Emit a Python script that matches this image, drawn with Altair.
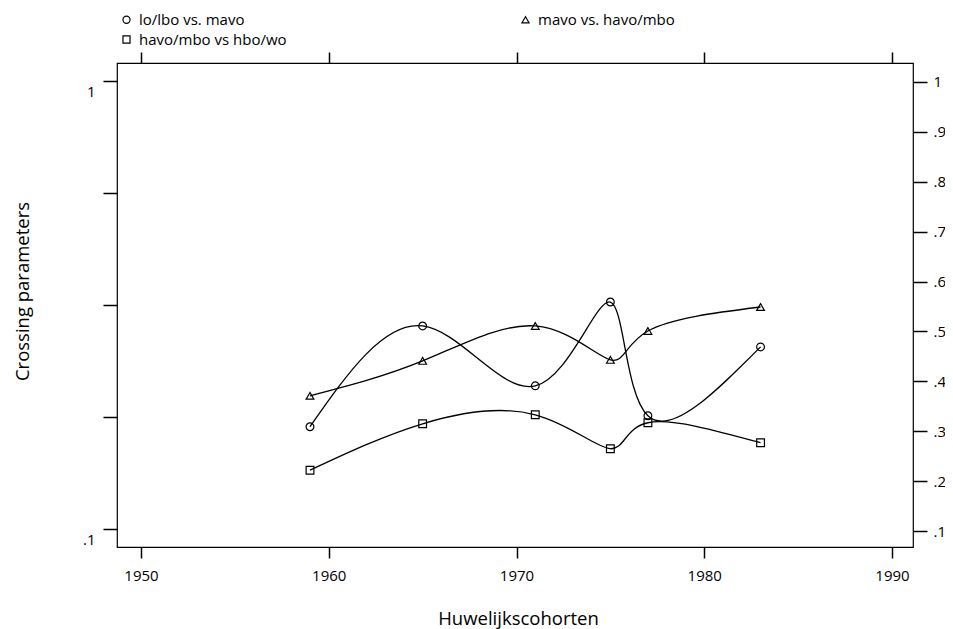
import altair as alt
import pandas as pd

years = [1959, 1965, 1971, 1975, 1977, 1983]
series_names = ["lo/lbo vs. mavo", "havo/mbo vs hbo/wo", "mavo vs. havo/mbo"]
lo_lbo_mavo = [0.309, 0.511, 0.391, 0.559, 0.331, 0.469]
havo_mbo_hbo = [0.222, 0.315, 0.333, 0.265, 0.317, 0.277]
mavo_havo_mbo = [0.371, 0.441, 0.511, 0.443, 0.501, 0.549]
shapes = ["circle", "square", "triangle-up"]
x_ticks = [1950, 1960, 1970, 1980, 1990]
right_ticks = [0.1, 0.2, 0.3, 0.4, 0.5, 0.6, 0.7, 0.8, 0.9, 1.0]
left_ticks = [1.0, 10 ** -0.25, 10 ** -0.5, 10 ** -0.75, 0.1]

rows = []
for name, vals in zip(series_names, [lo_lbo_mavo, havo_mbo_hbo, mavo_havo_mbo]):
    for yr, v in zip(years, vals):
        rows.append({"year": yr, "value": v, "series": name})
df = pd.DataFrame(rows)

FONT = "Open Sans"
xs = alt.Scale(domain=[1948.72, 1991.12], nice=False, zero=False)
ys = alt.Scale(domain=[0.068, 1.038], nice=False, zero=False)
ylog = alt.Scale(type="log", domain=[0.0912, 1.097], nice=False)

base = alt.Chart(df)

lines = base.mark_line(color="black", strokeWidth=1.3, interpolate="natural").encode(
    x=alt.X("year:Q", scale=xs, axis=alt.Axis(
        orient="bottom", values=x_ticks, format="d", tickSize=11, labelPadding=10,
        title="Huwelijkscohorten", titleFontSize=18.5, titleFontWeight=500,
        titleY=77, titleX=401, titleBaseline="alphabetic", titleFont=FONT)),
    y=alt.Y("value:Q", scale=ys, axis=alt.Axis(
        orient="right", values=right_ticks, tickSize=14, labelPadding=6,
        labelExpr="datum.value >= 0.999 ? '1' : replace(format(datum.value, '.1f'), '0.', '.')",
        title=None)),
    detail="series:N",
)

points = base.mark_point(filled=False, color="black", size=60, strokeWidth=1.2, opacity=1).encode(
    x=alt.X("year:Q", scale=xs, axis=None),
    y=alt.Y("value:Q", scale=ys, axis=None),
    shape=alt.Shape("series:N", scale=alt.Scale(domain=series_names, range=shapes),
                    legend=alt.Legend(
                        orient="none", legendX=2, legendY=-51, columns=2, columnPadding=231,
                        rowPadding=4, symbolSize=50, symbolStrokeColor="black",
                        symbolFillColor="transparent", symbolStrokeWidth=1.2,
                        labelFontSize=15, labelFont=FONT, labelOffset=5, title=None,
                        padding=0, labelColor="black")),
)

dummy = base.mark_point(opacity=0).encode(
    x=alt.X("year:Q", scale=xs, axis=alt.Axis(
        orient="top", values=x_ticks, labels=False, tickSize=11, title=None)),
    y=alt.Y("value:Q", scale=ylog, axis=alt.Axis(
        orient="left", values=left_ticks, tickSize=14, labelPadding=8, labelOffset=10,
        labelExpr="abs(datum.value - 1) < 1e-6 ? '1' : (abs(datum.value - 0.1) < 1e-6 ? '.1' : '')",
        title="Crossing parameters", titleFontSize=18.5, titleFontWeight=500,
        titleX=-95, titleY=228, titleAngle=-90, titleAlign="center",
        titleBaseline="middle", titleFont=FONT)),
)

chart = alt.layer(lines, points, dummy).resolve_scale(
    x="independent", y="independent"
).properties(
    width=796, height=484,
    autosize=alt.AutoSizeParams(type="none"),
    padding={"left": 109, "top": 55, "right": 32, "bottom": 82},
).configure_view(
    stroke="black", strokeWidth=1.2
).configure_axis(
    grid=False, domain=False, tickColor="black", tickWidth=1.5,
    labelFont=FONT, labelFontSize=15, labelColor="black", titleColor="black",
)

chart.save("out.html", embed_options={"renderer": "svg", "actions": False})
